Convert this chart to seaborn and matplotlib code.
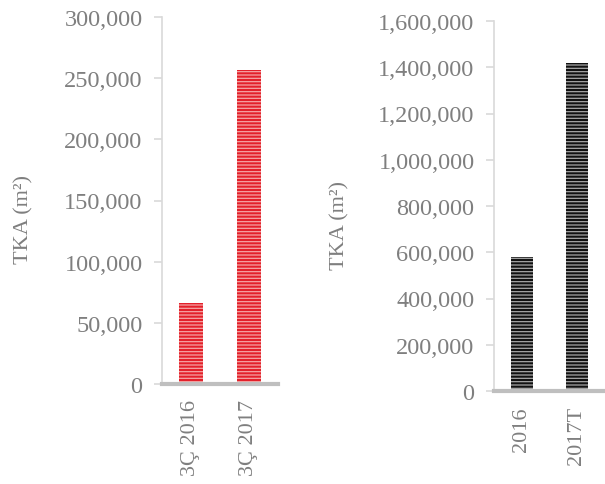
import matplotlib
matplotlib.use("Agg")
import matplotlib.pyplot as plt
import seaborn as sns
import pandas as pd
from matplotlib.ticker import FuncFormatter

left_cats = ["3Ç 2016", "3Ç 2017"]
left_vals = [66000, 256500]
right_cats = ["2016", "2017T"]
right_vals = [579000, 1418000]

sns.set_theme(style="white")
plt.rcParams["font.family"] = ["Liberation Serif", "DejaVu Serif"]
plt.rcParams["hatch.linewidth"] = 0.9

TXT = "#7f7f7f"
fig = plt.figure(figsize=(6.05, 4.85), dpi=100)
axL = fig.add_axes([162/605, 1-385/485, 116/605, 367/485])
axR = fig.add_axes([494/605, 1-392/485, 110/605, 370/485])

fmt = FuncFormatter(lambda v, p: f"{int(v):,}")

def style(ax, cats, vals, face, hatchc, ymax, step, lx, ly):
    df = pd.DataFrame({"cat": cats, "val": vals})
    sns.barplot(data=df, x="cat", y="val", color=face, saturation=1,
                width=0.4, ax=ax)
    for p in ax.patches:
        p.set_hatch("-----")
        p.set_edgecolor(hatchc)
        p.set_linewidth(0)
    ax.set_xlim(-0.5, 1.5)
    ax.set_ylim(0, ymax)
    ax.set_yticks(range(0, ymax + 1, step))
    ax.yaxis.set_major_formatter(fmt)
    ax.set_xlabel("")
    ax.set_ylabel("TKA (m²)", color=TXT, fontsize=16)
    ax.yaxis.set_label_coords(lx, ly)
    for s in ["top", "right"]:
        ax.spines[s].set_visible(False)
    ax.spines["left"].set_color("#d9d9d9")
    ax.spines["left"].set_linewidth(1.2)
    ax.spines["bottom"].set_color("#bfbfbf")
    ax.spines["bottom"].set_linewidth(3)
    ax.tick_params(axis="y", colors="#d9d9d9", labelcolor=TXT, labelsize=17.5,
                   length=6, width=1.2, pad=8, left=True, direction="out")
    ax.tick_params(axis="x", labelcolor=TXT, labelsize=16, length=0, pad=11,
                   labelrotation=90)

style(axL, left_cats, left_vals, "#e3202a", "#f5a3a3", 300000, 50000,
      (33-162)/116, (385-220)/367)
style(axR, right_cats, right_vals, "#111111", "#a6a6a6", 1600000, 200000,
      (349-494)/110, (392-225)/370)

fig.savefig("out.png", dpi=100)
